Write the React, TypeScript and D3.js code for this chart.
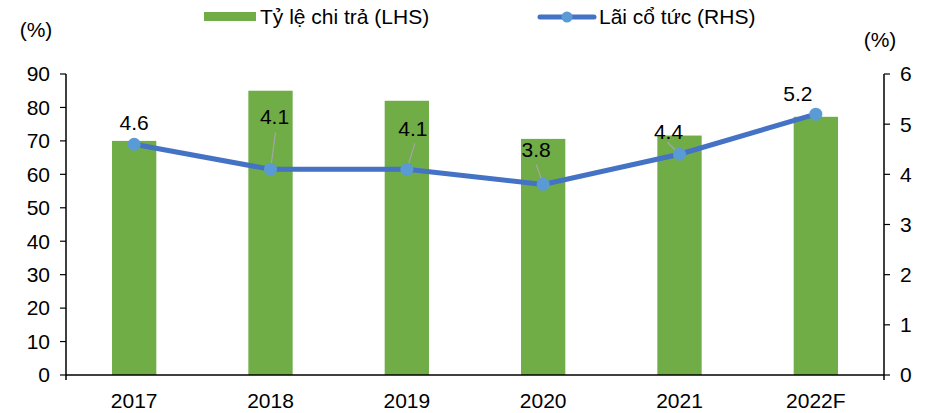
import React from "react";
import * as d3 from "d3";

const categories = ["2017", "2018", "2019", "2020", "2021", "2022F"];
const payoutRatio = [70, 85, 82, 70.6, 71.6, 77.2];
const dividendYield = [4.6, 4.1, 4.1, 3.8, 4.4, 5.2];
const yLeftTicks = [0, 10, 20, 30, 40, 50, 60, 70, 80, 90];
const yRightTicks = [0, 1, 2, 3, 4, 5, 6];
const seriesNames = ["Tỷ lệ chi trả (LHS)", "Lãi cổ tức (RHS)"];
// label centre offsets relative to point
const labelOffsets: [number, number][] = [
  [0, -22],
  [4, -53],
  [6, -41],
  [-7, -35],
  [-11, -23],
  [-18, -20],
];
// leader line start offsets relative to label centre (null = no leader)
const leaderStarts: ([number, number] | null)[] = [null, [1, 16], [2, 15], [0, 15], [-1, 11], null];

const W = 926;
const H = 413;
const left = 66;
const right = 884;
const top = 74;
const bottom = 375;
const font = "'Liberation Sans', Arial, sans-serif";
const fs = 21;

export default function App() {
  const x = d3.scaleBand<string>().domain(categories).range([left, right]).paddingInner(0.675).paddingOuter(0.3375);
  const yL = d3.scaleLinear().domain([0, 90]).range([bottom, top]);
  const yR = d3.scaleLinear().domain([0, 6]).range([bottom, top]);
  const cx = (c: string) => (x(c) ?? 0) + x.bandwidth() / 2;
  const line = d3
    .line<number>()
    .x((_, i) => cx(categories[i]))
    .y((d) => yR(d));

  return (
    <svg width={W} height={H} style={{ position: "absolute", left: 0, top: 0 }} fontFamily={font}>
      <rect width={W} height={H} fill="#fff" />
      {payoutRatio.map((v, i) => (
        <rect
          key={categories[i]}
          x={x(categories[i])}
          y={yL(v)}
          width={x.bandwidth()}
          height={yL(0) - yL(v)}
          fill="#70AD47"
        />
      ))}
      <line x1={left} x2={right} y1={bottom} y2={bottom} stroke="#000" strokeWidth={1.5} />
      <line x1={left} x2={left} y1={top} y2={bottom + 5} stroke="#000" strokeWidth={1.5} />
      <line x1={right} x2={right} y1={top} y2={bottom + 5} stroke="#000" strokeWidth={1.5} />
      {yLeftTicks.map((t) => (
        <g key={"l" + t}>
          <line x1={left - 6} x2={left} y1={yL(t)} y2={yL(t)} stroke="#000" strokeWidth={1.2} />
          <text x={left - 16} y={yL(t)} dy="0.35em" textAnchor="end" fontSize={fs}>
            {t}
          </text>
        </g>
      ))}
      {yRightTicks.map((t) => (
        <g key={"r" + t}>
          <line x1={right} x2={right + 6} y1={yR(t)} y2={yR(t)} stroke="#000" strokeWidth={1.2} />
          <text x={right + 16} y={yR(t)} dy="0.35em" textAnchor="start" fontSize={fs}>
            {t}
          </text>
        </g>
      ))}
      {categories.map((c) => (
        <text key={"x" + c} x={cx(c)} y={401} dy="0.35em" textAnchor="middle" fontSize={fs}>
          {c}
        </text>
      ))}
      <text x={36} y={30} dy="0.35em" textAnchor="middle" fontSize={fs}>
        (%)
      </text>
      <text x={880} y={40} dy="0.35em" textAnchor="middle" fontSize={fs}>
        (%)
      </text>
      {dividendYield.map((v, i) => {
        const ls = leaderStarts[i];
        if (!ls) return null;
        const [dx, dy] = labelOffsets[i];
        const px = cx(categories[i]);
        const py = yR(v);
        return (
          <line
            key={"ld" + i}
            x1={px + dx + ls[0]}
            y1={py + dy + ls[1]}
            x2={px}
            y2={py}
            stroke="#A5A5A5"
            strokeWidth={1.2}
          />
        );
      })}
      <path d={line(dividendYield) ?? ""} fill="none" stroke="#4472C4" strokeWidth={5} />
      {dividendYield.map((v, i) => (
        <circle key={"m" + i} cx={cx(categories[i])} cy={yR(v)} r={6.5} fill="#5B9BD5" />
      ))}
      {dividendYield.map((v, i) => {
        const [dx, dy] = labelOffsets[i];
        return (
          <text
            key={"lb" + i}
            x={cx(categories[i]) + dx}
            y={yR(v) + dy}
            dy="0.35em"
            textAnchor="middle"
            fontSize={fs}
          >
            {v.toFixed(1)}
          </text>
        );
      })}
      <rect x={204} y={12} width={52} height={9} fill="#70AD47" />
      <text x={260} y={17} dy="0.35em" fontSize={fs}>
        {seriesNames[0]}
      </text>
      <line x1={540} x2={594} y1={17} y2={17} stroke="#4472C4" strokeWidth={5} strokeLinecap="round" />
      <circle cx={567} cy={17} r={5.5} fill="#5B9BD5" />
      <text x={599} y={17} dy="0.35em" fontSize={fs}>
        {seriesNames[1]}
      </text>
    </svg>
  );
}
